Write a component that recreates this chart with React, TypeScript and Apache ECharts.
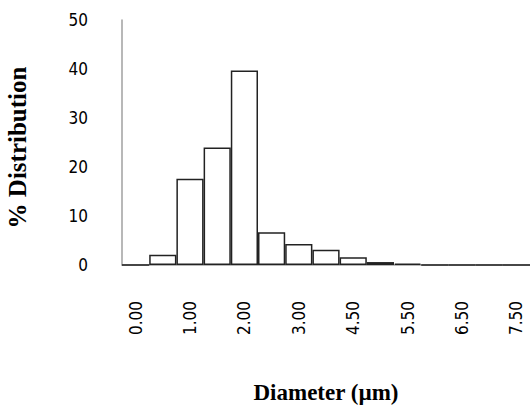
import React, { useEffect, useRef } from "react";
import * as echarts from "echarts";

const categories = ["0.00", "0.50", "1.00", "1.50", "2.00", "2.50", "3.00", "4.00", "4.50", "5.00", "5.50", "6.00", "6.50", "7.00", "7.50"];
const distribution = [0, 2.1, 17.6, 24.0, 39.7, 6.7, 4.3, 3.1, 1.6, 0.6, 0.3, 0, 0, 0, 0];
const yTicks = { min: 0, max: 50, interval: 10 };

const tickFont = "'DejaVu Sans Condensed', 'DejaVu Sans', sans-serif";

export default function App() {
  const ref = useRef<HTMLDivElement>(null);
  useEffect(() => {
    const chart = echarts.init(ref.current!, null, { renderer: "svg" });
    chart.setOption({
      animation: false,
      grid: { left: 122, right: 0, top: 20, bottom: 140, outerBoundsMode: "none", containLabel: false },
      xAxis: {
        type: "category",
        data: categories,
        name: "Diameter (µm)",
        nameLocation: "middle",
        nameGap: 116,
        nameTextStyle: { fontFamily: "Liberation Serif", fontWeight: "bold", fontSize: 23, color: "#000" },
        axisLine: { lineStyle: { color: "#a0a0a0", width: 1.5 } },
        axisTick: { show: false },
        axisLabel: { interval: 1, rotate: 90, margin: 36, fontFamily: tickFont, fontSize: 17, color: "#000" },
      },
      yAxis: {
        type: "value",
        min: yTicks.min,
        max: yTicks.max,
        interval: yTicks.interval,
        name: "% Distribution",
        nameLocation: "middle",
        nameGap: 92,
        nameRotate: 90,
        nameTextStyle: { fontFamily: "Liberation Serif", fontWeight: "bold", fontSize: 25, color: "#000", padding: [0, 10, 0, 0] },
        axisLine: { show: true, lineStyle: { color: "#a0a0a0", width: 1.5 } },
        axisTick: { show: false },
        splitLine: { show: false },
        axisLabel: { margin: 34, fontFamily: tickFont, fontSize: 17, color: "#000" },
      },
      series: [
        {
          type: "bar",
          data: distribution,
          barCategoryGap: "0%",
          itemStyle: { color: "#fff", borderColor: "#222", borderWidth: 1.5 },
        },
      ],
    });
    return () => chart.dispose();
  }, []);
  return <div ref={ref} style={{ width: 530, height: 405, position: "absolute", left: 0, top: 0 }} />;
}
